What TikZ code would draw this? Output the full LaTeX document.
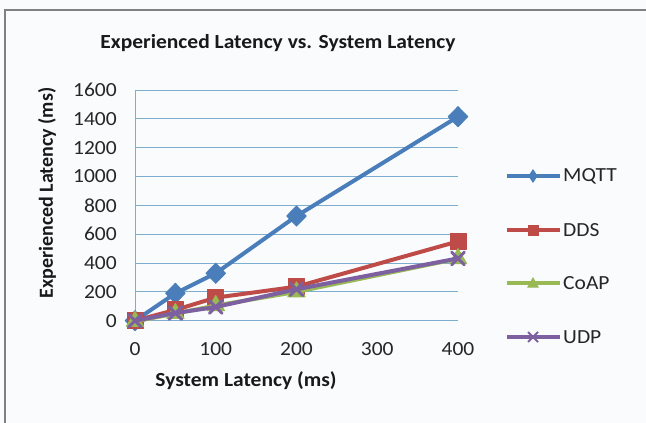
\documentclass[tikz,border=0pt]{standalone}
\usepackage{fontspec}
\setmainfont{Carlito}
\usetikzlibrary{plotmarks}
\definecolor{bg}{HTML}{FAFBFD}
\definecolor{frm}{HTML}{808080}
\definecolor{grd}{HTML}{7DAED0}
\definecolor{cM}{HTML}{4A7EBB}
\definecolor{cD}{HTML}{BE4B48}
\definecolor{cC}{HTML}{98B954}
\definecolor{cU}{HTML}{7D60A0}
\tikzset{
  ticklbl/.style={font=\fontsize{20}{23}\selectfont, text=black!85, inner sep=0pt, xscale=1.075},
  axlbl/.style={font=\bfseries\fontsize{20}{23}\selectfont, text=black!90, inner sep=0pt},
  series/.style={line width=4pt, line join=round, line cap=round},
  mqtt/.style={series, cM, mark=diamond*, mark size=10pt, mark options={xscale=1.3, line width=1pt, solid}},
  dds/.style={series, cD, mark=square*, mark size=8pt, mark options={line width=1pt, solid}},
  coap/.style={series, cC, mark=triangle*, mark size=10pt, mark options={line width=1pt, solid}},
  udp/.style={series, cU, mark=x, mark size=9pt, mark options={line width=3pt, solid}},
  legline/.style={line width=4pt}
}
\begin{document}
\begin{tikzpicture}[x=1pt,y=-1pt]
\useasboundingbox[fill=bg] (0,0) rectangle (646,423);
\draw[frm, line width=2pt] (5,423) -- (5,10) -- (646,10);
\node[axlbl, xscale=1.075] (title) at (278,43) {Experienced Latency vs. System Latency};
% grid and y ticks
\foreach \v/\n in {0/a,200/b,400/c,600/d,800/e,1000/f,1200/g,1400/h,1600/i}{
  \draw[grd, line width=0.9pt] (135,{320.7-0.1442*\v}) -- (458,{320.7-0.1442*\v});
  \node[ticklbl, anchor=east] (yt\n) at (117,{320.7-0.1442*\v}) {\v};
}
\draw[grd, line width=0.9pt] (135,90) -- (135,320.7);
% x ticks
\foreach \v/\n in {0/a,100/b,200/c,300/d,400/e}{
  \node[ticklbl] (xt\n) at ({135+0.8075*\v},349) {\v};
}
\node[axlbl, xscale=1.075] (xlabel) at (246,381) {System Latency (ms)};
\node[axlbl, rotate=90] (ylabel) at (47,193) {Experienced Latency (ms)};
% data
\begin{scope}[shift={(135,320.7)}]
\begin{scope}[x=0.8075pt, y=0.1442pt]
\draw[mqtt] plot coordinates {(0,0) (50,190) (100,329) (200,726) (400,1415)};
\draw[dds] plot coordinates {(0,0) (50,75) (100,160) (200,236) (400,550)};
\draw[coap] plot coordinates {(0,-5) (50,50) (100,105) (200,200) (400,430)};
\draw[udp] plot coordinates {(0,0) (50,53) (100,95) (200,218) (400,432)};
\end{scope}
\end{scope}
% legend
\foreach \s/\t/\y in {mqtt/MQTT/176,dds/DDS/230,coap/CoAP/283,udp/UDP/337}{
  \coordinate (l\s a) at (507,\y);
  \coordinate (l\s b) at (560,\y);
  \node[ticklbl, anchor=west] (lt\s) at (563,\y) {\t};
}
\draw[legline, cM] (lmqtta) -- (lmqttb);
\draw[legline, cD] (lddsa) -- (lddsb);
\draw[legline, cC] (lcoapa) -- (lcoapb);
\draw[legline, cU] (ludpa) -- (ludpb);
\draw[cM, line width=1pt, fill=cM] (533,170) -- (537,176) -- (533,182) -- (529,176) -- cycle;
\draw[cD, line width=1pt, fill=cD] (528,225) rectangle (538,235);
\draw[cC, line width=1pt, fill=cC] (533,278) -- (538,287) -- (528,287) -- cycle;
\draw[cU, line width=2pt] (528,332) -- (538,342) (528,342) -- (538,332);
\end{tikzpicture}
\end{document}
